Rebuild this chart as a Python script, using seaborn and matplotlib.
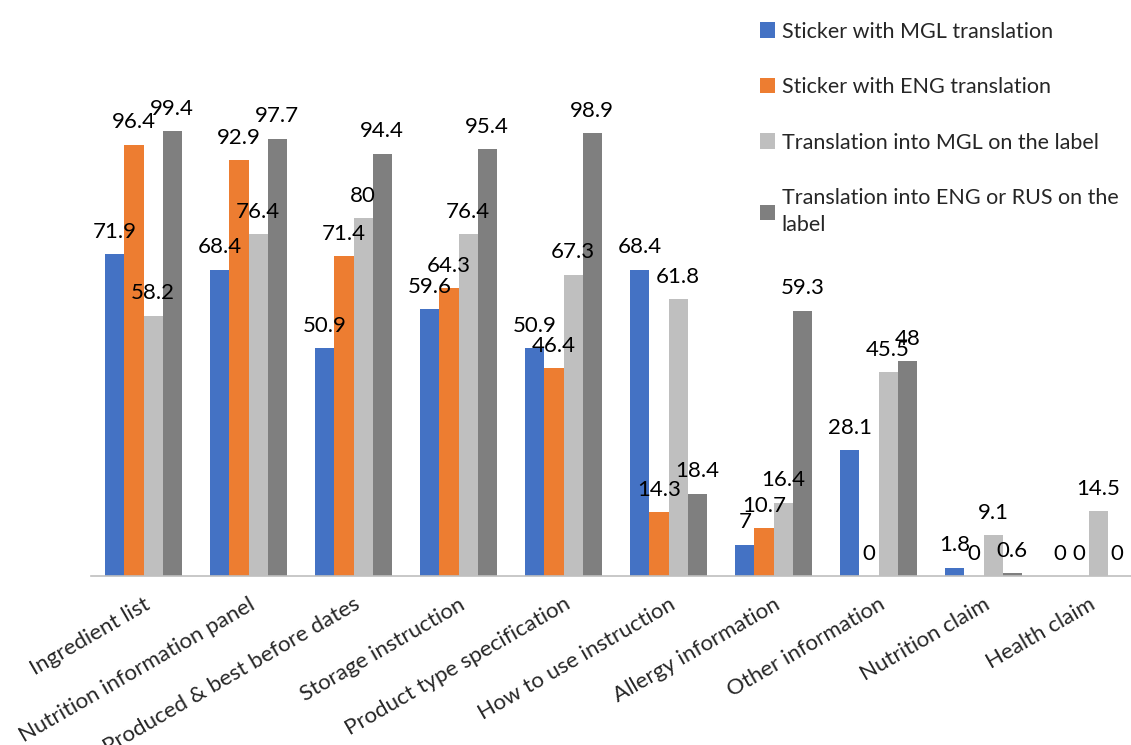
import numpy as np
import pandas as pd
import matplotlib.pyplot as plt
import seaborn as sns

categories = ["Ingredient list", "Nutrition information panel", "Produced & best before dates",
              "Storage instruction", "Product type specification", "How to use instruction",
              "Allergy information", "Other information", "Nutrition claim", "Health claim"]
series = ["Sticker with MGL translation", "Sticker with ENG translation",
          "Translation into MGL on the label", "Translation into ENG or RUS on the\nlabel"]
sticker_mgl = [71.9, 68.4, 50.9, 59.6, 50.9, 68.4, 7, 28.1, 1.8, 0]
sticker_eng = [96.4, 92.9, 71.4, 64.3, 46.4, 14.3, 10.7, 0, 0, 0]
label_mgl = [58.2, 76.4, 80, 76.4, 67.3, 61.8, 16.4, 45.5, 9.1, 14.5]
label_eng_rus = [99.4, 97.7, 94.4, 95.4, 98.9, 18.4, 59.3, 48, 0.6, 0]
colors = ["#4472C4", "#ED7D31", "#BFBFBF", "#7F7F7F"]

rows = []
for name, vals in zip(series, [sticker_mgl, sticker_eng, label_mgl, label_eng_rus]):
    for c, v in zip(categories, vals):
        rows.append({"category": c, "series": name, "value": v})
df = pd.DataFrame(rows)

sns.set_style("white")
plt.rcParams['font.family'] = ['Lato', 'DejaVu Sans']

fig = plt.figure(figsize=(11.31, 7.45), dpi=100)
ax = fig.add_axes([91 / 1131, 1 - 576 / 745, 1050 / 1131, 537 / 745])

sns.barplot(data=df, x="category", y="value", hue="series", order=categories,
            hue_order=series, palette=colors, width=0.73, gap=0, saturation=1,
            edgecolor="none", ax=ax)

for cont in ax.containers:
    ax.bar_label(cont, fmt=lambda v: f"{v:g}", padding=9, fontsize=16, color="#000000")

ax.set_ylim(0, 120)
ax.set_xlim(-0.5, len(categories) - 0.5)
ax.set_xlabel("")
ax.set_ylabel("")
ax.set_yticks([])
for s in ["top", "left", "right"]:
    ax.spines[s].set_visible(False)
ax.spines["bottom"].set_color("#BFBFBF")
ax.spines["bottom"].set_linewidth(1.2)

ax.set_xticks(range(len(categories)))
ax.set_xticklabels(categories, rotation=30, ha="right", rotation_mode="anchor", fontsize=16)
ax.tick_params(axis="x", which="major", length=0, pad=13)
ax.set_xticks(np.arange(-0.5, len(categories), 1), minor=True)
ax.tick_params(axis="x", which="minor", length=8, color="#BFBFBF", width=1.2)

leg = ax.legend(loc="upper left", bbox_to_anchor=(751 / 1131, 1 - 13 / 745),
                bbox_transform=fig.transFigure, frameon=False, fontsize=15.5,
                handlelength=0.72, handleheight=0.72, handletextpad=0.3,
                labelspacing=1.65, borderaxespad=0)
for t in leg.get_texts():
    t.set_linespacing(1.45)

fig.savefig("out.png", dpi=100)
